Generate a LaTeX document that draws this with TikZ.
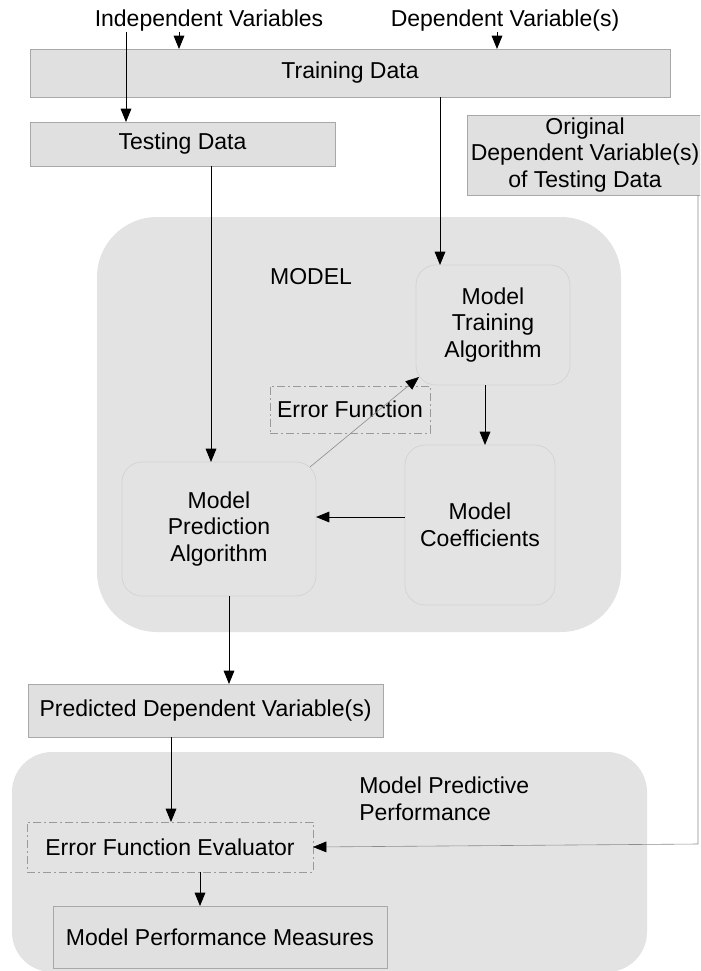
\documentclass[tikz,border=0pt]{standalone}
\usepackage{fontspec}
\setmainfont{Liberation Sans}
\usetikzlibrary{arrows.meta,fit,calc}
\definecolor{boxfill}{HTML}{E0E0E0}
\definecolor{boxline}{HTML}{A8A8A8}
\definecolor{regionfill}{HTML}{E3E3E3}
\definecolor{innerline}{HTML}{D2D2D2}
\definecolor{dashline}{HTML}{9A9A9A}
\definecolor{thinline}{HTML}{8C8C8C}
\begin{document}
\begin{tikzpicture}[x=0.75pt,y=-0.75pt,
  font=\fontsize{17.25pt}{20pt}\selectfont,
  box/.style={draw=boxline, fill=boxfill, line width=0.6pt, inner sep=0pt, outer sep=0pt},
  region/.style={fill=regionfill, draw=none, rounded corners=#1, inner sep=0pt, outer sep=0pt},
  innerbox/.style={fill=regionfill, draw=innerline, line width=0.5pt, rounded corners=15pt, inner sep=0pt, outer sep=0pt},
  dashbox/.style={draw=dashline, line width=0.5pt, dash pattern=on 6pt off 2.5pt on 1pt off 2.5pt, inner sep=0pt, outer sep=0pt},
  txt/.style={align=center, inner sep=0pt},
  tip/.style={-{Triangle[length=10pt,width=8pt,color=black]}},
  arr/.style={tip, draw=black, line width=0.7pt},
  faint/.style={tip, draw=thinline, line width=0.45pt},
]
\useasboundingbox (0,0) rectangle (700,971);
\clip (0,0) rectangle (700,971);

% grouping regions
\node[region=45pt, fit={(97,217) (621,632)}] (modelreg) {};
\node[region=30pt, fit={(12,752) (647,972)}] (perfreg) {};

% inputs
\node[txt] (indep) at (209,21) {Independent Variables};
\node[txt] (dep) at (505,21) {Dependent Variable(s)};
\node[box, fit={(30,49) (670,97)}] (train) {};
\node[txt] (train-t) at (train.center) {Training Data};
\node[box, fit={(30,122) (335,166)}] (test) {};
\node[txt] (test-t) at (test.center) {Testing Data};
\node[box, fit={(467,115) (709,195)}] (orig) {};
\node[txt] (orig-t) at (585,155) {Original\\Dependent Variable(s)\\of Testing Data};

% model internals
\node[txt] (modellabel) at (311,277) {MODEL};
\node[innerbox, fit={(416,265) (570,385)}] (mta) {};
\node[txt] (mta-t) at (mta.center) {Model\\Training\\Algorithm};
\node[innerbox, fit={(405,445) (555,605)}] (mc) {};
\node[txt] (mc-t) at (mc.center) {Model\\Coefficients};
\node[innerbox, fit={(122,462) (316,596)}] (mpa) {};
\node[txt] (mpa-t) at (mpa.center) {Model\\Prediction\\Algorithm};
\node[dashbox, fit={(270,386) (430,433)}] (ef) {};
\node[txt] (ef-t) at (ef.center) {Error Function};

% outputs and evaluation
\node[box, fit={(28,684) (383,737)}] (pred) {};
\node[txt] (pred-t) at (pred.center) {Predicted Dependent Variable(s)};
\node[txt, anchor=west, align=left] (perflabel) at (359,799) {Model Predictive\\Performance};
\node[dashbox, fit={(27,822) (313,872)}] (efe) {};
\node[txt] (efe-t) at (efe.center) {Error Function Evaluator};
\node[box, fit={(53,906) (387,968)}] (mpm) {};
\node[txt] (mpm-t) at (mpm.center) {Model Performance Measures};

% connector columns and rows
\coordinate (xa) at (126,0);
\coordinate (xb) at (179,0);
\coordinate (xc) at (497,0);
\coordinate (xd) at (440,0);
\coordinate (xe) at (211,0);
\coordinate (xf) at (485,0);
\coordinate (xg) at (229,0);
\coordinate (xh) at (171,0);
\coordinate (xi) at (200,0);
\coordinate (xr) at (698,0);
\coordinate (ym) at (0,517);
\coordinate (bend) at (698,844);

% connectors
\draw[arr] (indep.south -| xb) -- (train.north -| xb);
\draw[arr] (indep.south -| xa) -- (test.north -| xa);
\draw[arr] (dep.south -| xc) -- (train.north -| xc);
\draw[arr] (train.south -| xd) -- (mta.north -| xd);
\draw[arr] (test.south -| xe) -- (mpa.north -| xe);
\draw[arr] (mta.south -| xf) -- (mc.north -| xf);
\draw[arr] (mc.west |- ym) -- (mpa.east |- ym);
\draw[faint] ($(mpa.north east)+(-6,5)$) -- ($(mta.south west)+(3,-8)$);
\draw[arr] (mpa.south -| xg) -- (pred.north -| xg);
\draw[arr] (pred.south -| xh) -- (efe.north -| xh);
\draw[arr] (efe.south -| xi) -- (mpm.north -| xi);
\draw[faint] (orig.south -| xr) -- (bend) -- (efe.east);
\end{tikzpicture}
\end{document}
